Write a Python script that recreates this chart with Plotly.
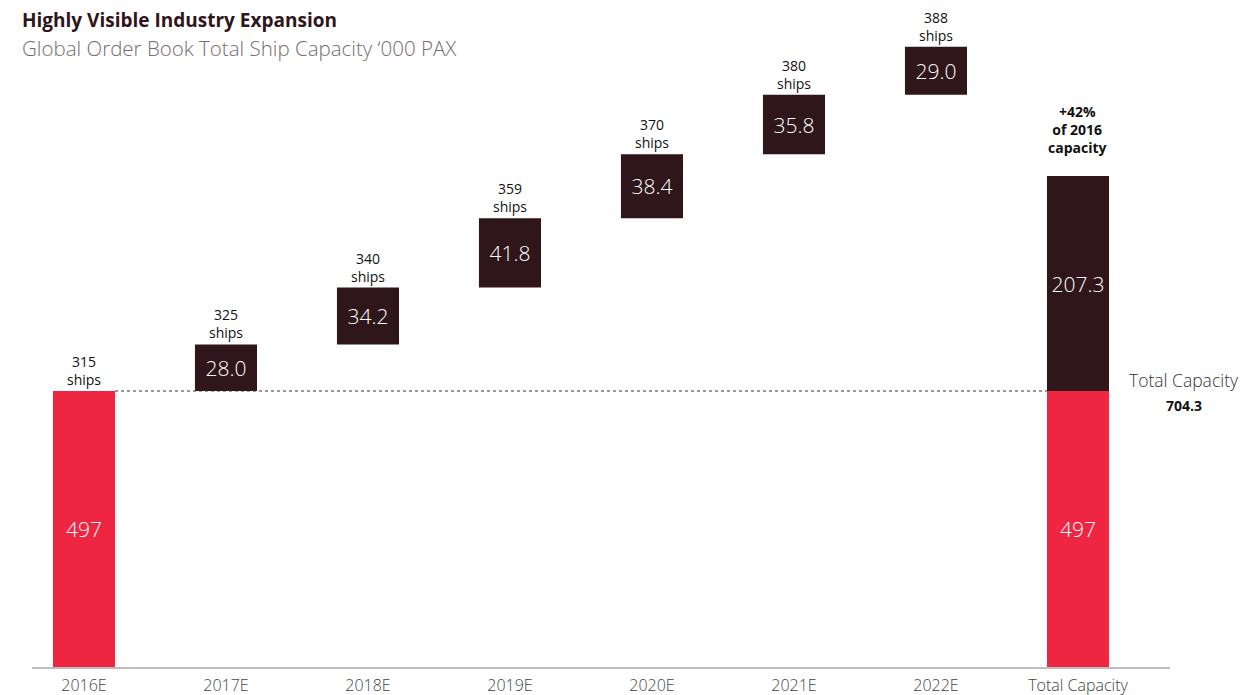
import plotly.graph_objects as go

categories = ["2016E", "2017E", "2018E", "2019E", "2020E", "2021E", "2022E", "Total Capacity"]
base_capacity = 497
increments = [28.0, 34.2, 41.8, 38.4, 35.8, 29.0]
ships = [315, 325, 340, 359, 370, 380, 388]
total_added = 207.3
total_capacity = 704.3
total_note = "+42%<br>of 2016<br>capacity"

RED = "#EE2642"
DARK = "#2E161A"
FONT = "'Open Sans', Lato, sans-serif"
BW = 0.437

fig = go.Figure()

fig.add_trace(go.Bar(
    x=[categories[0], categories[-1]], y=[base_capacity, base_capacity],
    marker=dict(color=RED, line=dict(width=0)), width=BW,
    text=[str(base_capacity)] * 2, textposition="inside", insidetextanchor="middle",
    textfont=dict(color="white", size=21, family=FONT, weight=300), yaxis="y", hoverinfo="skip"))

bases = []
cum = 0.0
for v in increments:
    bases.append(cum)
    cum += v
fig.add_trace(go.Bar(
    x=categories[1:7], y=increments, base=bases,
    marker=dict(color=DARK, line=dict(width=0)), width=BW,
    text=[f"{v:.1f}" for v in increments], textposition="inside", insidetextanchor="middle",
    textfont=dict(color="white", size=21, family=FONT, weight=300), yaxis="y2", hoverinfo="skip"))

tops = [0] + [b + v for b, v in zip(bases, increments)]
for cat, top, s in zip(categories[:7], tops, ships):
    fig.add_annotation(xref="x", yref="y2", x=cat, y=top, xanchor="center", yanchor="bottom",
                       text=f"{s}<br>ships", showarrow=False, yshift=0,
                       font=dict(color="#111", size=14, family=FONT))

fig.add_trace(go.Bar(
    x=[categories[-1]], y=[total_added], base=[0],
    marker=dict(color=DARK, line=dict(width=0)), width=BW,
    text=[f"{total_added:.1f}"], textposition="inside", insidetextanchor="middle",
    textfont=dict(color="white", size=21, family=FONT, weight=300), yaxis="y3", hoverinfo="skip"))
fig.add_annotation(xref="x", yref="y3", x=categories[-1], y=total_added, xanchor="center",
                   yanchor="bottom", showarrow=False, yshift=17,
                   text="<b>" + total_note.replace("<br>", "</b><br><b>") + "</b>",
                   font=dict(color="#111", size=14, family=FONT))

fig.add_shape(type="line", xref="x", yref="y2", x0=0 + BW / 2, x1=7 - BW / 2, y0=0, y1=0,
              line=dict(color="#333", width=1, dash="dot"))

fig.add_annotation(xref="paper", yref="y2", x=1.0, y=0, xanchor="center", yanchor="bottom",
                   text="Total Capacity", showarrow=False, xshift=14, yshift=-3,
                   font=dict(size=17.5, color="#333", family=FONT, weight=300))
fig.add_annotation(xref="paper", yref="y2", x=1.0, y=0, xanchor="center", yanchor="top",
                   text=f"<b>{total_capacity}</b>", showarrow=False, xshift=14, yshift=-3,
                   font=dict(size=14, color="#111", family=FONT))

fig.add_annotation(xref="paper", yref="paper", x=0, y=1, xanchor="left", yanchor="top",
                   text="<b>Highly Visible Industry Expansion</b>", showarrow=False,
                   xshift=-12, yshift=15, font=dict(size=19, color="#2E161A", family=FONT))
fig.add_annotation(xref="paper", yref="paper", x=0, y=1, xanchor="left", yanchor="top",
                   text="Global Order Book Total Ship Capacity \u2018000 PAX", showarrow=False,
                   xshift=-12, yshift=-12, font=dict(size=20.5, color="#776B6D", family=FONT, weight=300))

H_PLOT = 647.0
BASE_PX = 276.0
s2 = 1.662
s3 = 1.037
fig.update_layout(
    width=1244, height=695,
    margin=dict(l=32, r=74, t=20, b=28, autoexpand=False),
    plot_bgcolor="white", paper_bgcolor="white",
    showlegend=False, barmode="overlay",
    xaxis=dict(type="category", categoryorder="array", categoryarray=categories,
               range=[-0.366, 7.648], showline=True, linecolor="#BDBDBD", linewidth=2,
               ticks="", showgrid=False, zeroline=False, automargin=False,
               ticklabelstandoff=3,
               tickfont=dict(size=16, color="#444", family=FONT, weight=300)),
    yaxis=dict(range=[0, base_capacity * H_PLOT / BASE_PX], visible=False, showgrid=False),
    yaxis2=dict(range=[-BASE_PX / s2, -BASE_PX / s2 + H_PLOT / s2], overlaying="y",
                visible=False, showgrid=False),
    yaxis3=dict(range=[-BASE_PX / s3, -BASE_PX / s3 + H_PLOT / s3], overlaying="y",
                visible=False, showgrid=False),
    uniformtext=dict(minsize=10, mode="show"),
)

fig.write_html("out.html")
